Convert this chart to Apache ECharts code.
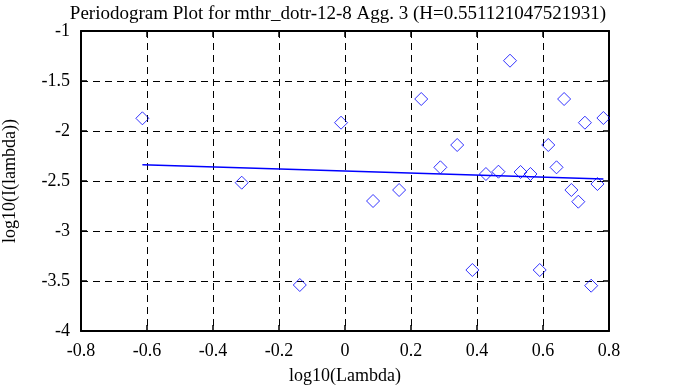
<!DOCTYPE html>
<html><head><meta charset="utf-8">
<script src="https://cdn.jsdelivr.net/npm/echarts@6/dist/echarts.min.js"></script>
<style>html,body{margin:0;padding:0;background:#fff}#c{width:673px;height:387px}</style>
</head><body><div id="c"></div>
<script>
const titleText = 'Periodogram Plot for mthr_dotr-12-8 Agg. 3 (H=0.551121047521931)';
const xName = 'log10(Lambda)';
const yName = 'log10(I(lambda))';
const logLambda = [-0.614,-0.313,-0.137,-0.012,0.085,0.164,0.231,0.289,0.340,0.386,0.427,0.465,0.500,0.532,0.562,0.590,0.616,0.641,0.664,0.686,0.707,0.727,0.746,0.765,0.783];
const logI = [-1.873,-2.517,-3.54,-1.917,-2.70,-2.59,-1.68,-2.363,-2.14,-3.39,-2.43,-2.407,-1.297,-2.41,-2.43,-3.39,-2.14,-2.363,-1.68,-2.59,-2.707,-1.917,-3.547,-2.53,-1.87];
const fitX = [-0.614, 0.783];
const fitY = [-2.337, -2.480];

const font = 'Liberation Serif';
const chart = echarts.init(document.getElementById('c'));
const pts = logLambda.map((x,i)=>[x, logI[i]]);
const fit = fitX.map((x,i)=>[x, fitY[i]]);
const axBase = {
  axisLine:{show:true,onZero:false,lineStyle:{color:'#000',width:2}},
  axisTick:{show:true,inside:true,length:6,lineStyle:{color:'#000',width:1.5}},
};
chart.setOption({
  animation:false,
  backgroundColor:'#fff',
  title:{text:titleText,left:333,top:0,textAlign:'center',textStyle:{fontFamily:font,fontSize:19,fontWeight:'normal',color:'#000'}},
  grid:{left:81,right:64,top:31,bottom:56,containLabel:false,outerBoundsMode:'none'},
  xAxis:[
    Object.assign({type:'value',min:-0.8,max:0.8,interval:0.2,position:'bottom',
      name:xName,nameLocation:'middle',nameGap:36,nameTextStyle:{fontFamily:font,fontSize:18,color:'#000'},
      axisLabel:{fontFamily:font,fontSize:18,color:'#000',margin:11,formatter:v=>String(Math.round(v*10)/10)},
      splitLine:{show:true,lineStyle:{color:'#000',type:[7,5],width:1}}},axBase),
    Object.assign({type:'value',min:-0.8,max:0.8,interval:0.2,position:'top',
      axisLabel:{show:false},splitLine:{show:false}},axBase)
  ],
  yAxis:[
    Object.assign({type:'value',min:-4,max:-1,interval:0.5,position:'left',
      name:yName,nameLocation:'middle',nameGap:62,nameRotate:90,nameTextStyle:{fontFamily:font,fontSize:18,color:'#000'},
      axisLabel:{fontFamily:font,fontSize:18,color:'#000',margin:11,formatter:v=>String(Math.round(v*10)/10)},
      splitLine:{show:true,lineStyle:{color:'#000',type:[7,5],width:1}}},axBase),
    Object.assign({type:'value',min:-4,max:-1,interval:0.5,position:'right',
      axisLabel:{show:false},splitLine:{show:false}},axBase)
  ],
  series:[
    {type:'line',data:fit,symbol:'none',lineStyle:{color:'#0000ff',width:1.5},z:3},
    {type:'scatter',data:pts,symbol:'diamond',symbolSize:13,
      itemStyle:{color:'rgba(0,0,0,0)',borderColor:'#0000ff',borderWidth:1},z:4}
  ]
});
</script></body></html>
